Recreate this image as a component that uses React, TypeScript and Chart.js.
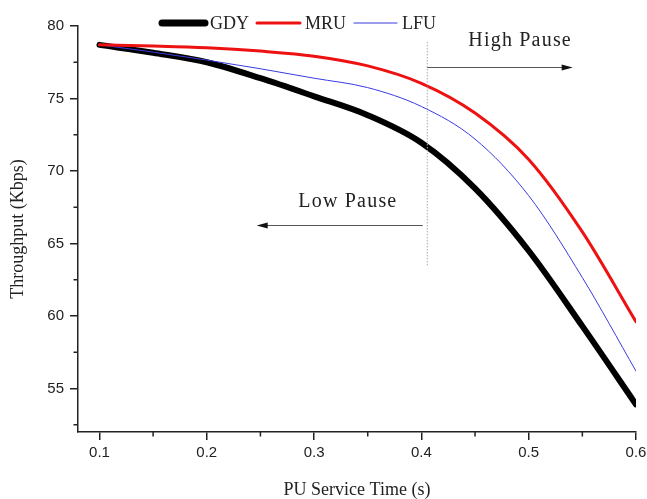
import React, { useEffect, useRef } from "react";
import { Chart, registerables } from "chart.js";

Chart.register(...registerables);

// ---- data ----
const serviceTime = [0.1, 0.15, 0.2, 0.25, 0.3, 0.35, 0.4, 0.45, 0.5, 0.55, 0.6];
const gdy = [78.7, 78.15, 77.5, 76.4, 75.15, 73.85, 71.95, 68.8, 64.5, 59.3, 53.9];
const mru = [78.7, 78.62, 78.5, 78.27, 77.92, 77.25, 76.05, 74.0, 70.8, 65.8, 59.6];
const lfu = [78.7, 78.2, 77.65, 77.05, 76.4, 75.75, 74.45, 72.2, 68.3, 62.65, 56.2];

const xTicks = [0.1, 0.2, 0.3, 0.4, 0.5, 0.6];
const xMinorTicks = [0.15, 0.25, 0.35, 0.45, 0.55];
const yTicks = [55, 60, 65, 70, 75, 80];
const yMinorTicks = [52.5, 57.5, 62.5, 67.5, 72.5, 77.5];

const xTitle = "PU Service Time (s)";
const yTitle = "Throughput (Kbps)";

// annotation (in data coordinates)
const pauseBoundary = 0.4055;
const boundaryRange = [63.5, 78.9];
const highPauseLabel = "High Pause";
const highPauseText = [0.492, 79.0];
const highPauseArrow = [0.4055, 0.541, 77.15];
const lowPauseLabel = "Low Pause";
const lowPauseText = [0.3315, 67.9];
const lowPauseArrow = [0.4013, 0.2465, 66.25];

const SERIF = "'Liberation Serif', 'Times New Roman', serif";
const SANS = "'Liberation Sans', Arial, sans-serif";
const INK = "#222";

const overlayPlugin = {
  id: "overlay",
  afterDatasetsDraw(chart: any) {
    const { ctx, scales } = chart;
    const x = scales.x;
    const y = scales.y;
    ctx.save();

    // minor ticks
    ctx.strokeStyle = INK;
    ctx.lineWidth = 1.5;
    ctx.beginPath();
    xMinorTicks.forEach((v) => {
      const px = x.getPixelForValue(v);
      ctx.moveTo(px, y.bottom);
      ctx.lineTo(px, y.bottom + 4.5);
    });
    yMinorTicks.forEach((v) => {
      const py = y.getPixelForValue(v);
      ctx.moveTo(x.left, py);
      ctx.lineTo(x.left - 4.5, py);
    });
    ctx.stroke();

    // dotted boundary
    const bx = x.getPixelForValue(pauseBoundary);
    ctx.strokeStyle = "#aaa";
    ctx.lineWidth = 1;
    ctx.setLineDash([1.5, 1.5]);
    ctx.beginPath();
    ctx.moveTo(bx, y.getPixelForValue(boundaryRange[1]));
    ctx.lineTo(bx, y.getPixelForValue(boundaryRange[0]));
    ctx.stroke();
    ctx.setLineDash([]);

    const arrow = (x0: number, x1: number, yv: number) => {
      const p0 = x.getPixelForValue(x0);
      const p1 = x.getPixelForValue(x1);
      const py = Math.round(y.getPixelForValue(yv)) + 0.5;
      const dir = p1 > p0 ? 1 : -1;
      ctx.strokeStyle = "#555";
      ctx.lineWidth = 1;
      ctx.beginPath();
      ctx.moveTo(p0, py);
      ctx.lineTo(p1 - dir * 8, py);
      ctx.stroke();
      ctx.fillStyle = "#111";
      ctx.beginPath();
      ctx.moveTo(p1, py);
      ctx.lineTo(p1 - dir * 11, py - 3);
      ctx.lineTo(p1 - dir * 11, py + 3);
      ctx.closePath();
      ctx.fill();
    };
    arrow(highPauseArrow[0], highPauseArrow[1], highPauseArrow[2]);
    arrow(lowPauseArrow[0], lowPauseArrow[1], lowPauseArrow[2]);

    ctx.fillStyle = INK;
    ctx.font = `20px ${SERIF}`;
    (ctx as any).letterSpacing = "1.2px";
    ctx.textAlign = "center";
    ctx.textBaseline = "middle";
    ctx.fillText(highPauseLabel, x.getPixelForValue(highPauseText[0]), y.getPixelForValue(highPauseText[1]));
    ctx.fillText(lowPauseLabel, x.getPixelForValue(lowPauseText[0]), y.getPixelForValue(lowPauseText[1]));
    (ctx as any).letterSpacing = "0px";

    // legend
    ctx.font = `18px ${SERIF}`;
    ctx.textAlign = "left";
    ctx.textBaseline = "middle";
    let lx = 162;
    const ly = 23;
    chart.data.datasets.forEach((ds: any) => {
      ctx.strokeStyle = ds.borderColor;
      ctx.lineWidth = ds.legendWidth;
      ctx.lineCap = "round";
      ctx.beginPath();
      ctx.moveTo(lx, ly);
      ctx.lineTo(lx + 43, ly);
      ctx.stroke();
      lx += 48;
      ctx.fillStyle = INK;
      ctx.fillText(ds.label, lx, ly + 1);
      lx += ctx.measureText(ds.label).width + 8;
    });

    ctx.restore();
  },
};

export default function App() {
  const ref = useRef<HTMLCanvasElement | null>(null);

  useEffect(() => {
    if (!ref.current) return;
    const mk = (arr: number[]) => serviceTime.map((t, i) => ({ x: t, y: arr[i] }));
    const chart = new Chart(ref.current, {
      type: "line",
      data: {
        datasets: [
          { label: "GDY", data: mk(gdy), borderColor: "#000", borderWidth: 6, legendWidth: 7, order: 3 } as any,
          { label: "MRU", data: mk(mru), borderColor: "#ee1111", borderWidth: 3, legendWidth: 3, order: 1 } as any,
          { label: "LFU", data: mk(lfu), borderColor: "#3a3ae0", borderWidth: 1, legendWidth: 1.2, order: 2 } as any,
        ],
      },
      options: {
        responsive: false,
        animation: false,
        layout: { padding: { top: 26, right: 11, left: 0, bottom: 0 } },
        elements: {
          point: { radius: 0, hoverRadius: 0 },
          line: { cubicInterpolationMode: "monotone", borderCapStyle: "round", borderJoinStyle: "round", fill: false },
        },
        plugins: { legend: { display: false }, tooltip: { enabled: false } },
        scales: {
          x: {
            type: "linear",
            min: 0.08,
            max: 0.6,
            afterBuildTicks: (s: any) => {
              s.ticks = xTicks.map((v) => ({ value: v }));
            },
            afterFit: (s: any) => {
              s.height = 67;
              s.paddingRight = 0;
              s.paddingLeft = 0;
            },
            grid: { drawOnChartArea: false, drawTicks: true, tickLength: 8, color: INK, lineWidth: 1.5 },
            border: { display: true, color: INK, width: 1.5 },
            ticks: {
              padding: 4,
              color: INK,
              font: { family: SANS, size: 15 },
              callback: (v: any) => Number(v).toFixed(1),
              maxRotation: 0,
            },
            title: {
              display: true,
              text: xTitle,
              color: INK,
              font: { family: SERIF, size: 18, lineHeight: 1 },
              padding: { top: 0, bottom: 0 },
            },
          },
          y: {
            type: "linear",
            min: 52,
            max: 80,
            afterBuildTicks: (s: any) => {
              s.ticks = yTicks.map((v) => ({ value: v }));
            },
            afterFit: (s: any) => {
              s.width = 78;
            },
            grid: { drawOnChartArea: false, drawTicks: true, tickLength: 8, color: INK, lineWidth: 1.5 },
            border: { display: true, color: INK, width: 1.5 },
            ticks: {
              padding: 6,
              color: INK,
              font: { family: SANS, size: 15 },
              callback: (v: any) => String(v),
            },
            title: {
              display: true,
              text: yTitle,
              color: INK,
              font: { family: SERIF, size: 18 },
              padding: { top: 7, bottom: 0 },
            },
          },
        },
      },
      plugins: [overlayPlugin],
    } as any);
    return () => chart.destroy();
  }, []);

  return (
    <div style={{ position: "fixed", left: 0, top: 0, width: 647, height: 499, background: "#fff" }}>
      <canvas ref={ref} width={647} height={499} style={{ display: "block" }} />
    </div>
  );
}
